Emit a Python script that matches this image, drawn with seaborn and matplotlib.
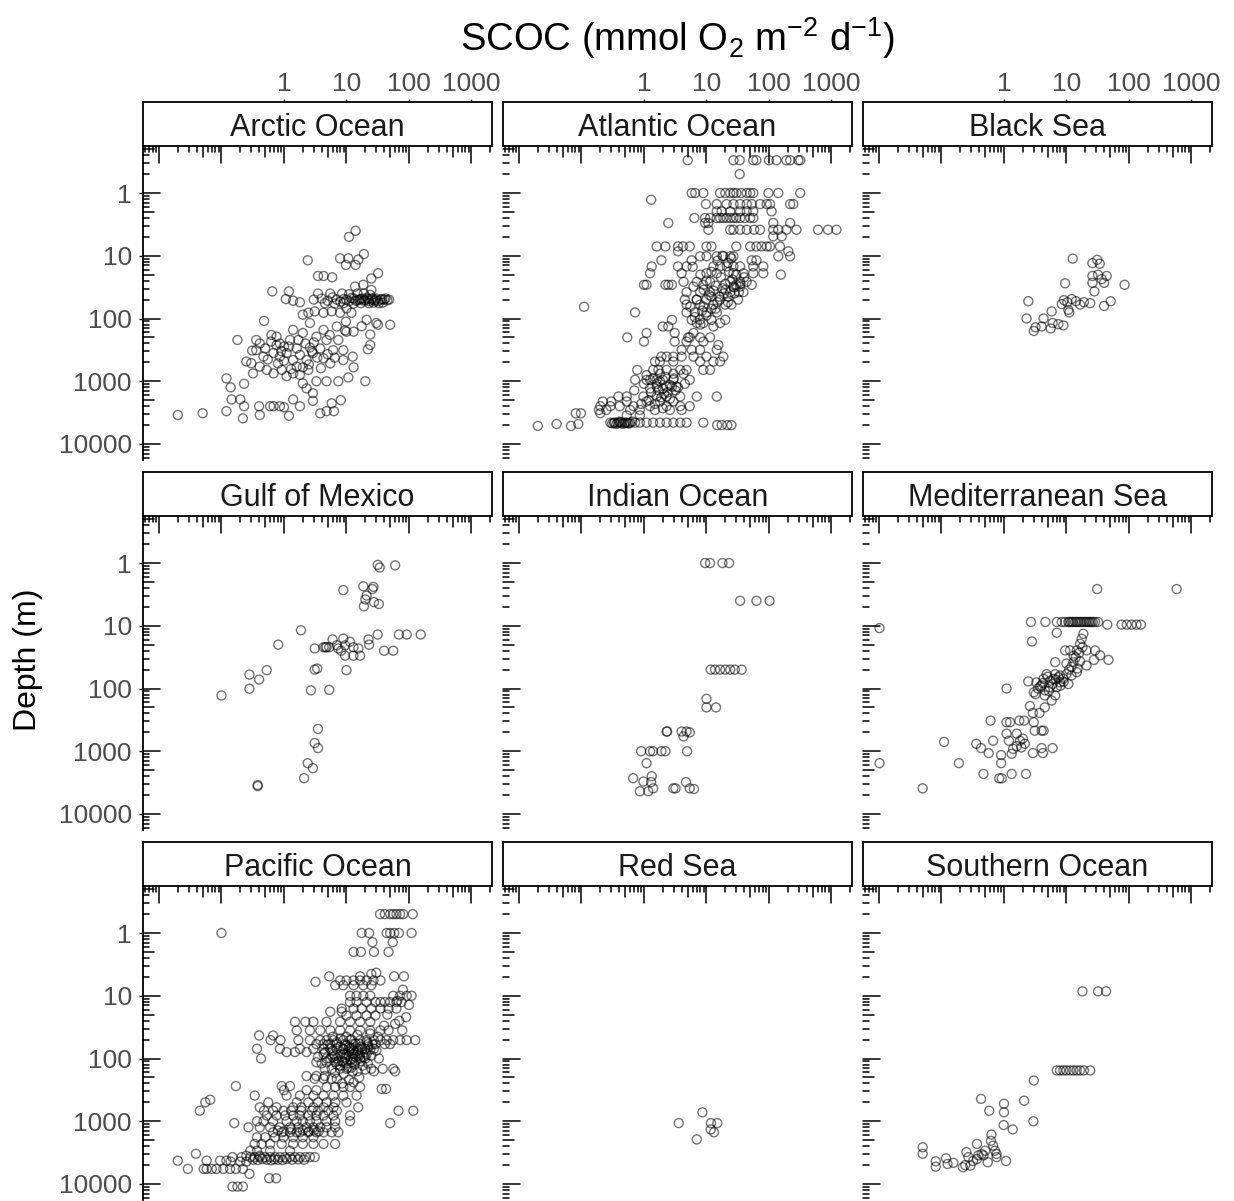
import matplotlib
matplotlib.use("Agg")
import matplotlib.pyplot as plt
from matplotlib.ticker import NullLocator
import pandas as pd
import seaborn as sns

# ---------------- data: (SCOC, depth) pairs ----------------
regions = ["Arctic Ocean", "Atlantic Ocean", "Black Sea",
           "Gulf of Mexico", "Indian Ocean", "Mediterranean Sea",
           "Pacific Ocean", "Red Sea", "Southern Ocean"]

arctic = [
    (0.020, 3450), (0.050, 3240), (0.12, 900), (0.14, 1250), (0.23, 1100), (0.12, 3000), (0.145, 1950),
    (0.20, 1950), (0.22, 3900), (0.23, 2500), (0.41, 3450), (0.40, 2500), (0.60, 2500), (0.68, 2500),
    (0.86, 2500), (1.0, 2600), (1.2, 3550), (1.4, 1950), (1.8, 2500), (2.9, 2050), (3.8, 3250), (4.8, 3000),
    (6.3, 3000), (5.8, 2250), (8.1, 2000), (2.9, 1550), (2.3, 1300), (2.0, 1080), (3.3, 1000), (4.8, 1000),
    (7.4, 1000), (10.7, 870), (20, 1000), (13, 600), (8.9, 460), (12.6, 405), (22, 310), (24, 180),
    (17.5, 133), (30, 118), (50, 126), (32, 126), (13, 162), (9.5, 155), (9.8, 112), (7.9, 81), (5.8, 77),
    (4.3, 81), (3.1, 77), (2.45, 81), (2.0, 87), (2.6, 118), (2.0, 170), (1.7, 220), (1.4, 152), (1.25, 220),
    (1.0, 280), (0.76, 265), (0.68, 355), (0.86, 405), (1.1, 355), (1.4, 460), (1.8, 380), (1.6, 585),
    (2.3, 460), (2.8, 335), (3.8, 300), (4.3, 430), (4.8, 220), (6.1, 320), (7.4, 220), (8.9, 320),
    (10, 162), (7.0, 134), (5.4, 183), (4.3, 152), (3.3, 195), (2.9, 355), (2.45, 660), (1.8, 790),
    (1.4, 750), (1.1, 830), (0.92, 660), (0.68, 750), (0.53, 660), (0.41, 585), (0.32, 750), (0.30, 515),
    (0.25, 485), (0.36, 320), (0.47, 405), (0.62, 233), (0.63, 183), (0.76, 195), (0.86, 250), (0.41, 250),
    (0.31, 325), (0.18, 220), (0.36, 220), (0.48, 109), (0.65, 37), (1.2, 37), (1.07, 49), (1.4, 52),
    (1.8, 55), (2.4, 11.8), (3.5, 21), (4.3, 21), (5.9, 22), (7.9, 11), (10.7, 11), (9.8, 14), (14, 14),
    (15.5, 11.5), (19, 9.4), (11, 5.0), (14, 4.0), (25, 23), (32, 19), (25, 35), (18.6, 29), (13.7, 31),
    (3.0, 50), (4.0, 48), (5.0, 52), (6.0, 46), (7.0, 50), (8.0, 54), (10, 50), (12, 47), (14, 52), (16, 50),
    (18, 48), (20, 51), (22, 49), (25, 50), (28, 52), (30, 48), (35, 50), (40, 50), (45, 51),
    (9, 49), (11, 53), (13, 48), (15, 51), (17, 49), (19, 52), (21, 47), (23, 53), (26, 48), (29, 50),
    (32, 53), (37, 49), (42, 48), (48, 50),
    (3.5, 40), (5.5, 40), (8.5, 40), (11, 41), (15, 40), (19, 40), (24, 42),
    (4.5, 57), (6.5, 58), (9, 57), (13, 58), (17, 57), (23, 57), (27, 56), (33, 57), (38, 56),
    (24, 265), (21, 105), (12, 81), (10, 69), (0.5, 300), (0.9, 330), (1.2, 280), (1.6, 300), (2.2, 250),
    (2.6, 290), (3.0, 240), (3.4, 420), (5.0, 370), (6.5, 420), (1.3, 640), (2.0, 600), (0.8, 520),
    (0.55, 450), (1.0, 470), (3.9, 620), (5.5, 520), (2.5, 540),
]

atlantic = [
    (5.0, 0.30), (27, 0.30), (34, 0.30), (56, 0.30), (63, 0.30), (100, 0.30), (132, 0.30), (190, 0.30),
    (218, 0.30), (295, 0.30), (316, 0.30), (34, 0.50),
    (5.8, 1.0), (6.6, 1.0), (8.9, 1.0), (16.5, 1.0), (20, 1.0), (24, 1.0), (27, 1.0), (30, 1.0), (36, 1.0),
    (44, 1.0), (50, 1.0), (56, 1.0), (98, 1.0), (141, 1.0), (316, 1.0), (1.3, 1.28),
    (9.8, 1.5), (14.6, 1.5), (21, 1.5), (27, 1.5), (34.5, 1.5), (44, 1.5), (53, 1.5), (72, 1.5), (92, 1.5),
    (104, 1.5), (218, 1.5), (245, 1.5),
    (14.6, 1.96), (17.5, 1.96), (24, 1.96), (34.5, 1.96), (44, 1.96), (56, 1.96), (110, 1.96),
    (6.4, 2.5), (9.5, 2.5), (11.4, 2.5), (14.6, 2.5), (16.5, 2.5), (18.6, 2.5), (21, 2.5), (24, 2.5),
    (27, 2.5), (30, 2.5), (34.5, 2.5), (41, 2.5), (50, 2.5), (56, 2.5),
    (2.45, 3.0), (9.5, 3.0), (10.7, 3.0), (117, 3.0), (218, 3.0),
    (10.7, 3.85), (24, 3.85), (27, 3.85), (34.5, 3.85), (44, 3.85), (58, 3.85), (72, 3.85), (117, 3.85),
    (141, 3.85), (190, 3.85), (275, 3.85), (610, 3.85), (880, 3.85), (1200, 3.85), (117, 4.9), (160, 4.9),
    (1.6, 7.1), (2.2, 7.1), (3.5, 7.1), (4.2, 7.1), (5.4, 7.1), (10, 7.1), (12, 7.1), (30, 7.1), (50, 7.1),
    (63, 7.1), (76, 7.1), (92, 7.1), (104, 7.1), (150, 7.1), (3.5, 8.5), (204, 8.5),
    (7.9, 10.2), (10, 10.2), (14.6, 10.2), (18.6, 10.2), (24, 10.2), (27, 10.2), (218, 10.2), (141, 10.2),
    (1.9, 11.8), (5.8, 11.8), (53, 11.8), (63, 11.8),
    (1.33, 14.8), (3.5, 14.8), (4.8, 14.8), (12.9, 14.8), (16.5, 14.8), (21, 14.8), (27, 14.8), (34.5, 14.8),
    (56, 14.8), (81, 14.8),
    (1.25, 19), (4.0, 19), (10, 19), (14.6, 19), (27, 19), (39, 19), (56, 19), (81, 19), (155, 20),
    (4.3, 26), (7, 26), (11.4, 26), (24, 26), (34.5, 26), (44, 26),
    (1.0, 29), (1.1, 29), (2.2, 29), (2.45, 29), (2.8, 29), (8.9, 29), (30, 29), (53, 29),
    (27, 31), (34.5, 31), (6.2, 31), (4.8, 38), (7.9, 38), (11.4, 38), (24, 38), (39, 38),
    (4.5, 50), (7, 50), (10, 50), (16.5, 50), (32, 50), (4.8, 60), (7.9, 60), (12.9, 60), (20, 60),
    (12, 45), (15, 55), (18, 33), (22, 45), (25, 60), (20, 35), (14, 70), (9, 65), (28, 40),
    (6, 15), (8, 20), (10, 25), (12, 18), (14, 30), (17, 22), (20, 28), (23, 18), (26, 24), (30, 20),
    (35, 28), (40, 22), (9, 35), (11, 42), (13, 36), (16, 45), (19, 40), (22, 55), (7, 50), (8.5, 75),
    (10, 90), (12, 70), (6.5, 95), (8, 125), (5.5, 65), (28, 32), (33, 38), (15, 12), (18, 10), (22, 13),
    (25, 11),
    (0.11, 65), (0.72, 80), (4.8, 80), (6.5, 80), (10, 80), (14.6, 80),
    (2.8, 105), (5.8, 105), (7.9, 105), (12, 105), (20, 105), (7, 118), (8.9, 118), (16.5, 118),
    (2.0, 134), (2.45, 134), (12.9, 134), (1.1, 170), (3.1, 170), (6.2, 170),
    (0.54, 200), (5.1, 200), (5.4, 200), (7.9, 200), (11.4, 200), (1.0, 233), (3.1, 233), (4.8, 233),
    (8.9, 233), (15.5, 264), (4.0, 316), (5.8, 316), (7.9, 316), (14.6, 316),
    (1.9, 405), (2.3, 405), (2.95, 405), (4.0, 405), (6.2, 405), (10, 405), (18.6, 405),
    (1.5, 485), (1.8, 485), (2.95, 485), (7.9, 485), (12.9, 485), (16.5, 485),
    (0.78, 660), (1.4, 660), (1.7, 660), (2.3, 660), (3.8, 660), (4.8, 660), (8.9, 660), (11.4, 660),
    (1.8, 760), (2.95, 760), (4.3, 760),
    (0.72, 950), (1.1, 950), (1.25, 950), (1.6, 950), (2.0, 950), (2.95, 950), (5.4, 950),
    (1.6, 1220), (2.3, 1220), (2.8, 1220), (3.3, 1220), (1.25, 1300), (2.0, 1300),
    (1.0, 1100), (1.3, 1500), (1.7, 1400), (2.1, 1600), (2.6, 1900), (1.2, 2000), (0.9, 2300), (1.5, 2300),
    (2.0, 2700), (3.2, 1400), (4.5, 1100), (0.7, 1400),
    (1.1, 800), (1.4, 900), (1.8, 1000), (2.2, 850), (2.6, 1150), (3.0, 900), (1.6, 1100), (2.4, 1500),
    (3.5, 1250), (1.9, 1800),
    (0.39, 1750), (0.53, 1750), (0.98, 1750), (1.6, 1750), (2.3, 1750), (3.8, 1750), (7, 1750), (14.6, 1750),
    (0.22, 2100), (0.30, 2100), (0.53, 2100), (1.1, 2100), (1.8, 2100), (2.95, 2100),
    (0.2, 2500), (0.29, 2500), (0.41, 2500), (0.68, 2500), (1.25, 2500), (2.3, 2500), (3.8, 2500), (5.4, 2500),
    (0.19, 2870), (0.25, 2870), (0.60, 2870), (0.86, 2870), (1.5, 2870), (2.6, 2870), (4.0, 2870),
    (0.081, 3240), (0.098, 3240), (0.2, 3240), (0.53, 3500), (0.86, 3500),
    (0.29, 4570), (0.34, 4570), (0.41, 4570), (0.50, 4570), (0.60, 4570), (0.72, 4570), (0.86, 4570),
    (1.1, 4570), (1.4, 4570), (1.8, 4570), (2.3, 4570), (2.95, 4570), (3.8, 4570), (4.8, 4570), (8.9, 4570),
    (0.31, 4700), (0.36, 4800), (0.45, 4750), (0.55, 4650), (0.40, 4400), (0.65, 4400),
    (0.33, 4600), (0.38, 4650), (0.43, 4500), (0.48, 4700), (0.52, 4550), (0.58, 4700),
    (0.040, 4800), (0.089, 4800), (14.8, 5000), (17.5, 5000), (21.5, 5000), (25, 5000), (0.020, 5150),
    (0.068, 5150),
]

black_sea = [
    (12.6, 11.1), (26, 13.1), (31, 11.6), (34, 13.4), (26, 21), (32, 20), (44, 21), (36.6, 23.6), (40, 27),
    (26, 27), (85, 29), (9.5, 27.5), (28, 37), (2.45, 53), (9.1, 51), (8.4, 59), (10.3, 55), (12.1, 49),
    (14.2, 53), (16.5, 60), (19, 55), (24, 57), (10.7, 73), (11.1, 80), (40, 63), (51, 53), (5.8, 77),
    (2.3, 100), (4.3, 100), (6.0, 118), (7.4, 123), (8.9, 129), (4.0, 134), (3.2, 138), (3.0, 158),
    (5.6, 144),
]

gulf_mexico = [
    (0.10, 129), (0.28, 60), (0.28, 101), (0.40, 72), (0.53, 51), (0.81, 20), (1.87, 11.8), (2.7, 107),
    (5.3, 105), (3.1, 50), (3.4, 48), (10, 51), (3.1, 23), (4.3, 22), (4.8, 22), (6.0, 16.5), (8.9, 16),
    (11.4, 18), (7.4, 23), (9.5, 20.5), (12.9, 22), (15.5, 23), (9.5, 30), (12.9, 30), (16.5, 30),
    (8.2, 25), (7.0, 20.5), (23, 20), (22.5, 16.5), (31.6, 13.8), (40, 25), (56, 25), (69, 13.8),
    (92, 13.8), (154, 13.8), (8.9, 2.7), (18.6, 2.35), (27, 2.4), (26, 2.6), (21, 3.3), (20, 3.8),
    (19, 4.9), (27.5, 4.2), (33, 4.5), (31.6, 1.07), (34, 1.18), (60, 1.09), (3.5, 440), (3.1, 740),
    (3.5, 890), (2.4, 1550), (2.9, 1860), (2.1, 2690), (0.38, 3450), (0.38, 3600), (4.6, 22), (5.3, 22),
]

indian = [
    (9.5, 1.0), (11.4, 1.0), (18, 1.0), (23, 1.0), (34.5, 4.0), (63, 4.0), (102, 4.0),
    (11.7, 50), (13.7, 50), (16.5, 50), (20, 50), (24, 50), (28.5, 50), (36.5, 50),
    (10, 146), (10, 200), (14.2, 200), (2.3, 485), (2.35, 485), (4.0, 485), (4.8, 485), (5.4, 500),
    (4.3, 580), (0.9, 1000), (1.25, 1000), (1.4, 1000), (1.9, 1000), (2.2, 1000), (4.9, 1000),
    (1.1, 1550), (0.67, 2690), (0.98, 3040), (1.33, 2500), (1.3, 3100), (0.86, 4350), (1.17, 4350),
    (1.4, 3900), (2.95, 3900), (3.2, 3900), (4.7, 3100), (5.4, 3900), (6.3, 4000),
]

mediterranean = [
    (31, 2.6), (580, 2.6), (0.0102, 10.9), (0.0102, 1550),
    (2.7, 8.7), (4.6, 8.7), (7.0, 8.7), (8.4, 8.7), (9.5, 8.7), (10.7, 8.7), (12, 8.7), (13.7, 8.7),
    (15.5, 8.7), (17.5, 8.7), (20, 8.7), (22.4, 8.7), (25, 8.7), (28.7, 8.7), (32, 8.7),
    (11.2, 8.7), (12.6, 8.7), (14.5, 8.7), (16.5, 8.7), (18.8, 8.7), (21, 8.7), (23.5, 8.7), (26.5, 8.7),
    (45, 9.6), (76, 9.6), (92, 9.6), (110, 9.6), (132, 9.6), (155, 9.6),
    (7.0, 12.9), (18.6, 13.4), (17.5, 16.1), (16.5, 19.4), (2.8, 17.8),
    (9.5, 24.7), (11.4, 24.7), (14.6, 24.7), (21, 24.7), (28.7, 24.7), (34.5, 29.6), (47, 35), (27.5, 35),
    (6.6, 38), (10, 40), (12.9, 38), (16.5, 37), (21, 43), (14.6, 55), (12, 62), (10, 59), (7.9, 62),
    (6.6, 59), (4.8, 59), (4.3, 70), (6.2, 70), (8.9, 70), (10.7, 85), (7.9, 80),
    (13, 30), (14, 32), (16, 27), (18, 22), (12, 45), (11, 50), (15, 48),
    (5.0, 65), (5.5, 75), (6.0, 85), (6.8, 72), (7.5, 66), (8.0, 90), (9.0, 78), (4.2, 82), (3.8, 92),
    (5.2, 110), (3.0, 115),
    (2.45, 77), (3.3, 80), (4.0, 89), (5.4, 95), (7.0, 95), (3.5, 100), (4.5, 107), (3.2, 123), (4.5, 129),
    (6.6, 129), (1.1, 100), (5.8, 155), (4.5, 200), (2.6, 190), (2.9, 245), (3.7, 245),
    (0.61, 325), (1.1, 345), (1.25, 345), (1.76, 325), (2.1, 325), (3.0, 345),
    (3.1, 470), (4.0, 470), (4.3, 470), (1.1, 525), (1.6, 525),
    (1.2, 680), (1.8, 680), (2.0, 630), (2.15, 760), (0.67, 680), (1.6, 830), (1.9, 870), (1.4, 920),
    (4.0, 890), (6.0, 890), (2.9, 1070), (4.2, 1070), (0.36, 760), (0.43, 890), (0.57, 1070), (0.9, 1150),
    (0.9, 1550), (1.33, 1100), (0.19, 1550), (0.11, 710), (0.050, 3900), (0.47, 2300), (0.84, 2700),
    (0.92, 2700), (1.33, 2300), (2.25, 2300),
]

pacific = [
    (0.10, 1.0),
    (34.5, 0.50), (41, 0.50), (50, 0.50), (56, 0.50), (63, 0.50), (72, 0.50), (81, 0.50), (115, 0.50),
    (17.5, 1.0), (23, 1.0), (44, 1.0), (50, 1.0), (58, 1.0), (69, 1.0), (110, 1.0), (26, 1.4), (55, 1.4),
    (13, 2.0), (17, 2.0), (27.5, 2.0), (47, 2.0),
    (3.2, 6.0), (5.3, 4.9), (16.5, 4.9), (58, 4.9), (83, 4.9),
    (7.9, 5.7), (10, 5.7), (13, 5.7), (16.5, 5.7), (21, 5.7), (27, 5.7), (35, 5.7),
    (6.6, 6.8), (8.9, 6.8), (13, 6.8), (18.6, 6.8), (25, 6.8), (25, 4.5), (30, 4.3),
    (11.4, 10), (14.5, 10), (18.6, 10), (24, 10), (56, 10), (72, 10), (92, 10), (110, 10),
    (11.4, 12.6), (14.5, 12.6), (21, 12.6), (29, 12.6), (35, 12.6), (41, 12.6), (50, 12.6), (63, 12.6),
    (76, 12.6), (8.4, 16), (13, 16), (17.5, 16), (25, 16), (35, 16), (47, 16), (63, 16),
    (10, 20.6), (14.5, 20.6), (21, 20.6), (29, 20.6),
    (1.5, 26), (2.2, 26), (2.95, 26), (4.8, 26), (7.9, 26), (11.4, 26), (16.5, 26), (24, 26), (5.5, 18),
    (8.4, 18),
    (1.6, 35.6), (2.6, 35.6), (3.8, 35.6), (5.5, 35.6), (7.9, 35.6), (11.4, 35.6), (16.5, 35.6), (24, 35.6),
    (35, 35.6), (47, 35.6), (78, 35.6), (0.40, 43), (0.67, 43),
    (0.61, 51), (0.88, 51), (1.7, 51), (2.6, 51), (3.8, 51), (4.8, 51), (6.2, 51), (8.9, 51), (11.4, 51),
    (16.5, 51), (21, 51), (27.5, 51), (35, 51), (44, 51), (56, 51), (72, 51), (92, 51), (126, 51),
    (3.3, 59), (4.3, 59), (5.5, 59), (7.0, 59), (9.5, 59), (13, 59), (16.5, 59), (22.4, 59), (29, 59),
    (41, 59), (50, 59),
    (0.37, 70), (0.86, 70), (1.8, 70), (2.95, 70), (4.3, 70), (5.5, 70), (7.0, 70), (8.9, 70), (11.4, 70),
    (15.4, 70), (19.8, 70), (27.5, 70), (1.1, 79), (1.5, 79), (2.3, 79),
    (4.3, 85), (6.2, 85), (7.9, 85), (10, 85), (13, 85), (16.5, 85), (21, 85),
    (0.43, 100), (4.8, 100), (7.0, 100), (9.5, 100), (12.8, 100), (16.5, 100), (33, 100),
    (3.3, 115), (4.8, 115), (6.6, 115), (8.9, 115), (12.3, 115),
    (6, 95), (8, 130), (10, 120), (12, 140), (14, 110), (15, 160), (18, 130), (20, 100), (22, 120),
    (9, 175), (11, 90), (13, 75), (17, 65), (7.5, 110), (25, 90), (30, 75), (20, 150), (16, 200), (11, 220),
    (6.5, 170), (8.5, 250), (13, 240), (24, 40), (32, 45), (40, 30), (60, 28), (45, 20), (70, 25),
    (90, 22), (100, 14), (80, 8), (65, 12),
    (5, 60), (6, 75), (7, 55), (8, 65), (9, 72), (10, 62), (11, 78), (12, 68), (13, 85), (14, 58),
    (15, 75), (16, 90), (18, 70), (20, 80), (22, 65), (9.5, 95), (8.5, 110), (11.5, 105), (13.5, 125),
    (7, 125), (10.5, 140), (12.5, 160), (6.5, 90), (5.5, 100), (4.5, 80), (17, 110), (19, 95), (24, 72),
    (26, 60), (21, 55), (8, 48), (10, 45), (12, 50), (15, 42), (6, 45), (3.5, 95), (4, 120), (14, 95),
    (9, 85), (11, 65),
    (4.5, 146), (5.8, 146), (7.9, 146), (10, 146), (25, 146), (38, 146), (56, 146), (27.5, 160), (60, 160),
    (2.3, 190), (3.3, 190), (4.5, 190), (3.1, 210), (4.3, 210), (5.8, 210), (7.0, 210),
    (0.17, 275), (0.92, 275), (1.25, 275), (4.8, 285), (6.6, 285), (8.9, 285), (11.4, 285), (16.5, 285),
    (36.6, 305), (43, 305), (1.0, 320), (2.3, 320), (3.3, 320),
    (0.34, 390), (1.1, 390), (1.8, 390), (2.95, 390), (4.3, 390), (6.2, 390), (8.9, 390), (14.5, 390),
    (0.066, 455),
    (0.055, 500), (0.56, 500), (1.6, 500), (2.45, 500), (3.5, 500), (4.8, 500), (6.6, 500), (10, 500),
    (0.41, 600), (0.76, 600), (1.4, 600), (1.9, 600), (2.95, 600), (4.3, 600), (6.2, 600), (15.4, 600),
    (0.045, 680), (0.48, 680), (0.67, 680), (0.98, 680), (1.3, 680), (1.9, 680), (2.8, 680), (3.5, 680),
    (5.1, 680), (7.0, 680), (68, 680), (117, 680),
    (0.53, 810), (0.76, 810), (1.04, 810), (1.4, 810), (1.8, 810), (2.45, 810), (3.3, 810), (4.3, 810),
    (6.2, 810), (11.4, 810),
    (0.37, 1000), (0.47, 1000), (0.67, 1000), (1.1, 1000), (1.6, 1000), (2.0, 1000), (2.6, 1000),
    (3.3, 1000), (4.8, 1000), (6.6, 1000), (11.4, 1000), (0.16, 1070), (50, 1070),
    (0.27, 1250), (0.41, 1250), (0.60, 1250), (0.86, 1250), (1.25, 1250), (1.7, 1250), (2.3, 1250),
    (2.95, 1250), (3.8, 1250), (4.8, 1250), (6.6, 1250),
    (0.8, 1400), (1.0, 1450), (1.3, 1350), (1.6, 1500), (2.0, 1400), (2.5, 1450), (3.0, 1400), (3.6, 1450),
    (0.67, 1500), (0.92, 1500), (1.25, 1500), (1.8, 1500), (2.45, 1500), (3.3, 1500), (4.3, 1500),
    (5.8, 1500), (7.4, 1500),
    (0.37, 1800), (0.50, 1800), (0.72, 1800), (0.98, 1800), (1.4, 1800), (2.0, 1800), (2.95, 1800),
    (0.34, 2300), (0.44, 2300), (0.60, 2300), (0.92, 2300), (1.4, 2300), (2.0, 2300), (2.95, 2300),
    (4.3, 2300), (6.6, 2300), (0.29, 2950), (0.37, 2950), (0.60, 2950), (1.25, 2950),
    (0.039, 3300), (0.25, 3550), (0.41, 3550),
    (0.15, 3730), (0.21, 3730), (0.29, 3730), (0.34, 3730), (0.41, 3730), (0.50, 3730), (0.60, 3730),
    (0.72, 3730), (0.86, 3730), (1.04, 3730), (1.25, 3730), (1.5, 3730), (1.8, 3730), (2.2, 3730),
    (2.6, 3730), (3.1, 3730),
    (0.32, 4100), (0.38, 4150), (0.45, 4000), (0.53, 4100), (0.62, 4200), (0.7, 4050), (0.8, 4100),
    (0.95, 4150), (1.1, 4000), (1.35, 4100), (1.7, 4050), (2.1, 4100),
    (0.020, 4250), (0.058, 4250), (0.095, 4250), (0.12, 4250), (0.14, 4400), (0.2, 4400), (0.25, 4400),
    (0.029, 5750), (0.052, 5750), (0.058, 5750), (0.07, 5750), (0.083, 5750), (0.107, 5750), (0.137, 5750),
    (0.17, 5750), (0.22, 5750), (0.28, 6900), (0.58, 8100), (0.75, 8100), (0.15, 11000), (0.18, 11000),
    (0.22, 11000),
]

red_sea = [(8.6, 720), (3.6, 1070), (11.8, 1070), (14.9, 1070), (11.7, 1350), (13.2, 1500), (7.0, 1950)]

southern = [
    (18, 8.5), (32, 8.5), (43, 8.5),
    (7.0, 155), (7.9, 155), (8.9, 155), (10, 155), (11.4, 155), (12.9, 155), (14.6, 155), (16.5, 155),
    (19, 155), (24, 155), (3.0, 224), (2.1, 470), (0.43, 440), (0.58, 680), (1.0, 525), (1.0, 720),
    (2.95, 1000), (0.99, 1150), (1.38, 1350), (0.63, 1630), (0.62, 2050), (0.67, 2450), (0.37, 2300),
    (0.72, 2950), (0.76, 3330), (0.50, 2950), (0.44, 3330), (0.25, 3100), (0.27, 3730), (0.24, 5000),
    (0.29, 5100), (0.32, 4300), (0.39, 3500), (0.55, 4500), (0.76, 3730), (1.08, 4300), (0.05, 2600),
    (0.05, 3300), (0.081, 4350), (0.081, 5300), (0.118, 3900), (0.125, 4800), (0.155, 4600), (0.22, 5400),
    (0.37, 4000), (0.47, 3500),
]

region_data = {
    "Arctic Ocean": arctic, "Atlantic Ocean": atlantic, "Black Sea": black_sea,
    "Gulf of Mexico": gulf_mexico, "Indian Ocean": indian, "Mediterranean Sea": mediterranean,
    "Pacific Ocean": pacific, "Red Sea": red_sea, "Southern Ocean": southern,
}

x_tick_values = [1, 10, 100, 1000]
x_tick_labels = ["1", "10", "100", "1000"]
y_tick_values = [1, 10, 100, 1000, 10000]
y_tick_labels = ["1", "10", "100", "1000", "10000"]

records = []
for reg in regions:
    for scoc, depth in region_data[reg]:
        records.append((reg, scoc, depth))
df = pd.DataFrame(records, columns=["region", "scoc", "depth"])

# ---------------- styling ----------------
sns.set_theme(style="white")
plt.rcParams["font.family"] = ["Liberation Sans", "DejaVu Sans"]
plt.rcParams["mathtext.fontset"] = "custom"
plt.rcParams["mathtext.rm"] = "Liberation Sans"
plt.rcParams["mathtext.it"] = "Liberation Sans:italic"

g = sns.FacetGrid(df, col="region", col_order=regions, col_wrap=3, height=3, aspect=1.1,
                  sharex=True, sharey=True)
g.map_dataframe(sns.scatterplot, x="scoc", y="depth", s=42, facecolors="none",
                edgecolor="black", linewidth=1.0, alpha=0.55)
g.set(xscale="log", yscale="log")
g.set_titles("")
g.set_axis_labels("", "")

fig = g.figure
fig.set_size_inches(12.34, 12.01)
W, H = 1234.0, 1201.0
col_x = [143, 503, 863]
row_top = [146, 516, 886]
pw, ph = 349.0, 314.0
strip_h = 44.0

XMIN, XMAX = 0.00555, 2130.0
YMIN, YMAX = 0.178, 18000.0
L_long, L_mid, L_short = 17.0, 11.0, 6.0
tick_lw = 1.1

for i, ax in enumerate(g.axes.flat):
    r, c = divmod(i, 3)
    ax.set_position([col_x[c] / W, 1 - (row_top[r] + ph) / H, pw / W, ph / H])
    ax.set_facecolor("none")
    for side in ["top", "right", "bottom"]:
        ax.spines[side].set_visible(False)
    ax.spines["left"].set_visible(c == 0)
    ax.spines["left"].set_color("black")
    ax.spines["left"].set_linewidth(1.3)

    # inside log ticks along the top (x)
    for k in range(-3, 4):
        for m in range(1, 10):
            v = m * 10.0 ** k
            if XMIN <= v <= XMAX:
                L = L_long if m == 1 else (L_mid if m == 5 else L_short)
                ax.axvline(v, ymin=1 - L / ph, ymax=1, color="black", lw=tick_lw, clip_on=False)
    # inside log ticks along the left (y, mirrored as in the original)
    for k in range(-2, 5):
        for m in range(1, 10):
            v = 10.0 ** k if m == 1 else 10.0 ** (k + 1) / m
            if YMIN <= v <= YMAX:
                L = L_long if m == 1 else (L_mid if m == 5 else L_short)
                ax.axhline(v, xmin=0, xmax=L / pw, color="black", lw=tick_lw, clip_on=False)

    ax.tick_params(axis="x", which="both", bottom=False, top=False, labelbottom=False, labeltop=False)

    # strip
    sax = ax.inset_axes([0, 1, 1, strip_h / ph])
    sax.set_xscale("log")
    sax.set_xlim(XMIN, XMAX)
    sax.set_ylim(0, 1)
    sax.set_yticks([])
    sax.xaxis.set_minor_locator(NullLocator())
    sax.set_facecolor("white")
    for sp in sax.spines.values():
        sp.set_visible(True)
        sp.set_color("black")
        sp.set_linewidth(1.3)
    if r == 0:
        sax.xaxis.tick_top()
        sax.set_xticks(x_tick_values, labels=x_tick_labels)
        sax.xaxis.set_minor_locator(NullLocator())
        sax.tick_params(axis="x", which="major", direction="out", length=2.5, width=1.0, pad=2,
                        labelsize=19, colors="#333333", labelcolor="#4D4D4D")
    else:
        sax.set_xticks([])
    sax.text(0.5, 0.40, regions[i], ha="center", va="center", transform=sax.transAxes,
             fontsize=22, color="#1A1A1A")

ax0 = g.axes.flat[0]
ax0.set_yticks(y_tick_values, labels=y_tick_labels)
ax0.yaxis.set_minor_locator(NullLocator())
ax0.xaxis.set_minor_locator(NullLocator())
for i, ax in enumerate(g.axes.flat):
    c = i % 3
    if c == 0:
        ax.tick_params(axis="y", which="major", left=True, labelleft=True, direction="out",
                       length=3, width=1.0, pad=5, labelsize=19, colors="black", labelcolor="#4D4D4D")
    else:
        ax.tick_params(axis="y", which="both", left=False, labelleft=False)
    ax.tick_params(axis="y", which="minor", left=False)

ax0.set_xlim(XMIN, XMAX)
ax0.set_ylim(YMAX, YMIN)

fig.text(677.5 / W, 1 - 38 / H, r"SCOC (mmol O$_2$ m$^{-2}$ d$^{-1}$)", ha="center", va="center",
         fontsize=27.5, color="black")
fig.text(28 / W, 1 - 660 / H, "Depth (m)", rotation=90, ha="center", va="center",
         fontsize=23, color="black")

fig.savefig("out.png", dpi=100, facecolor="white")
